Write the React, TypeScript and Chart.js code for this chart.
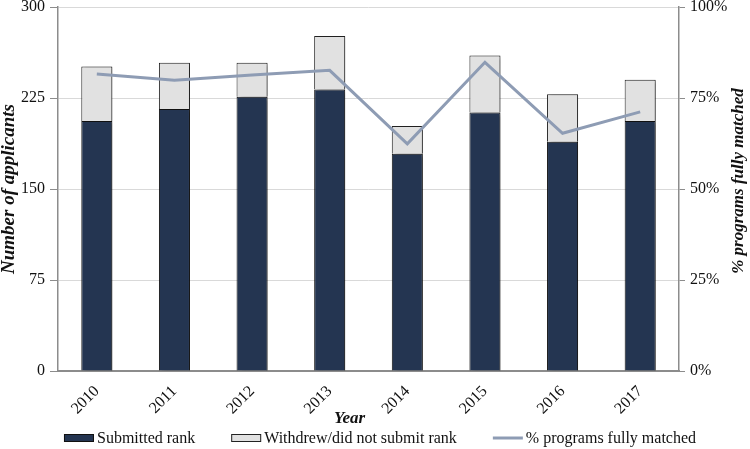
import React, { useEffect, useRef } from "react";
import { Chart, registerables } from "chart.js";

Chart.register(...registerables);

const YEARS = ["2010", "2011", "2012", "2013", "2014", "2015", "2016", "2017"];
const SUBMITTED = [206, 216, 226, 232, 179, 213, 189, 206];
const WITHDREW = [45, 38, 28, 44, 23, 47, 39, 34];
const PCT_MATCHED = [81.6, 79.9, 81.3, 82.6, 62.4, 84.8, 65.3, 71.2];

const LEFT_TICKS = [0, 75, 150, 225, 300];
const RIGHT_TICKS = [0, 25, 50, 75, 100];

const SERIF = "'Liberation Serif', 'Times New Roman', Times, serif";
const AXIS_COLOR = "#8c8c8c";
const GRID_COLOR = "#d9d9d9";
const TEXT_COLOR = "#111111";

const barShadow = {
  id: "barShadow",
  beforeDatasetDraw(chart: any, args: any) {
    const ds = chart.data.datasets[args.index];
    if (ds.type === "bar") {
      const ctx = chart.ctx;
      ctx.save();
      ctx.shadowColor = "rgba(0,0,0,0.35)";
      ctx.shadowOffsetX = 3;
      ctx.shadowOffsetY = 1;
      ctx.shadowBlur = 3;
    }
  },
  afterDatasetDraw(chart: any, args: any) {
    const ds = chart.data.datasets[args.index];
    if (ds.type === "bar") chart.ctx.restore();
  },
};

const extraText = {
  id: "extraText",
  afterDraw(chart: any) {
    const ctx = chart.ctx;
    const area = chart.chartArea;
    ctx.save();
    // x title
    ctx.fillStyle = TEXT_COLOR;
    ctx.font = `italic bold 17px ${SERIF}`;
    ctx.textAlign = "center";
    ctx.textBaseline = "middle";
    ctx.fillText("Year", (area.left + area.right) / 2 - 19, area.bottom + 48);
    // right title (reads bottom to top)
    ctx.save();
    ctx.translate(chart.width - 11, (area.top + area.bottom) / 2 - 8);
    ctx.rotate(-Math.PI / 2);
    ctx.fillText("% programs fully matched", 0, 0);
    ctx.restore();

    // legend
    const order = [1, 2, 0];
    const boxW = 30;
    const boxH = 8;
    const gapText = 3;
    const gapItem = 36;
    ctx.font = `16px ${SERIF}`;
    const items = order.map((i) => {
      const ds = chart.data.datasets[i];
      return { ds, w: boxW + gapText + ctx.measureText(ds.label).width };
    });
    const total = items.reduce((s, it) => s + it.w, 0) + gapItem * (items.length - 1);
    let x = chart.width / 2 + 5 - total / 2;
    const y = chart.height - 11;
    items.forEach(({ ds, w }) => {
      if (ds.type === "line") {
        ctx.strokeStyle = ds.borderColor;
        ctx.lineWidth = 3;
        ctx.beginPath();
        ctx.moveTo(x, y);
        ctx.lineTo(x + boxW, y);
        ctx.stroke();
      } else {
        ctx.fillStyle = ds.backgroundColor;
        ctx.fillRect(x, y - boxH / 2, boxW, boxH);
        ctx.strokeStyle = ds.borderColor;
        ctx.lineWidth = 1;
        ctx.strokeRect(x + 0.5, y - boxH / 2 + 0.5, boxW - 1, boxH - 1);
      }
      ctx.fillStyle = TEXT_COLOR;
      ctx.textAlign = "left";
      ctx.textBaseline = "middle";
      ctx.fillText(ds.label, x + boxW + gapText, y + 1);
      x += w + gapItem;
    });
    ctx.restore();
  },
};

export default function App() {
  const canvasRef = useRef<HTMLCanvasElement | null>(null);

  useEffect(() => {
    if (!canvasRef.current) return;
    const chart = new Chart(canvasRef.current, {
      type: "bar",
      data: {
        labels: YEARS,
        datasets: [
          {
            type: "line",
            label: "% programs fully matched",
            data: PCT_MATCHED,
            yAxisID: "y1",
            borderColor: "#8e9cb4",
            backgroundColor: "#8e9cb4",
            borderWidth: 3,
            pointRadius: 0,
            tension: 0,
            order: 0,
            stack: "line",
          } as any,
          {
            type: "bar",
            label: "Submitted rank",
            data: SUBMITTED,
            yAxisID: "y",
            backgroundColor: "#243551",
            borderColor: "#111111",
            borderWidth: 1,
            order: 1,
            stack: "apps",
          },
          {
            type: "bar",
            label: "Withdrew/did not submit rank",
            data: WITHDREW,
            yAxisID: "y",
            backgroundColor: "#e1e1e1",
            borderColor: "#222222",
            borderWidth: 1,
            order: 1,
            stack: "apps",
          },
        ],
      },
      options: {
        animation: false,
        responsive: false,
        layout: { padding: { top: 7, bottom: 22, left: 0, right: 0 } },
        datasets: { bar: { categoryPercentage: 1, barPercentage: 0.4 } },
        plugins: { legend: { display: false }, tooltip: { enabled: false } },
        scales: {
          x: {
            stacked: true,
            grid: { display: false },
            border: { color: AXIS_COLOR, width: 2 },
            ticks: {
              color: TEXT_COLOR,
              font: { family: SERIF, size: 16 },
              minRotation: 45,
              maxRotation: 45,
              padding: 3,
            },
            afterFit(scale: any) {
              scale.height = 56;
              scale.paddingLeft = 0;
              scale.paddingRight = 0;
            },
          },
          y: {
            stacked: true,
            position: "left",
            min: 0,
            max: 300,
            afterBuildTicks(scale: any) {
              scale.ticks = LEFT_TICKS.map((v) => ({ value: v }));
            },
            grid: { color: GRID_COLOR, tickColor: AXIS_COLOR, tickLength: 8, lineWidth: 1 },
            border: { color: AXIS_COLOR, width: 1.5 },
            ticks: {
              color: TEXT_COLOR,
              font: { family: SERIF, size: 16 },
              padding: 5,
            },
            title: {
              display: true,
              text: "Number of applicants",
              color: TEXT_COLOR,
              font: { family: SERIF, size: 19, style: "italic", weight: "bold", lineHeight: 1 },
              padding: { top: 0, bottom: 0 },
            },
            afterFit(scale: any) {
              scale.width = 58;
              scale.paddingTop = 0;
              scale.paddingBottom = 0;
            },
          },
          y1: {
            position: "right",
            min: 0,
            max: 100,
            afterBuildTicks(scale: any) {
              scale.ticks = RIGHT_TICKS.map((v) => ({ value: v }));
            },
            grid: { drawOnChartArea: false, tickColor: AXIS_COLOR, tickLength: 6 },
            border: { color: AXIS_COLOR, width: 1.5 },
            ticks: {
              color: TEXT_COLOR,
              font: { family: SERIF, size: 16 },
              padding: 5,
              callback: (v: any) => `${v}%`,
            },
            afterFit(scale: any) {
              scale.width = 71;
              scale.paddingTop = 0;
              scale.paddingBottom = 0;
            },
          },
        },
      },
      plugins: [barShadow, extraText],
    });
    return () => chart.destroy();
  }, []);

  return (
    <div style={{ position: "absolute", top: 0, left: 0, width: 750, height: 449, background: "#fff" }}>
      <canvas ref={canvasRef} width={750} height={449} style={{ display: "block" }} />
    </div>
  );
}
